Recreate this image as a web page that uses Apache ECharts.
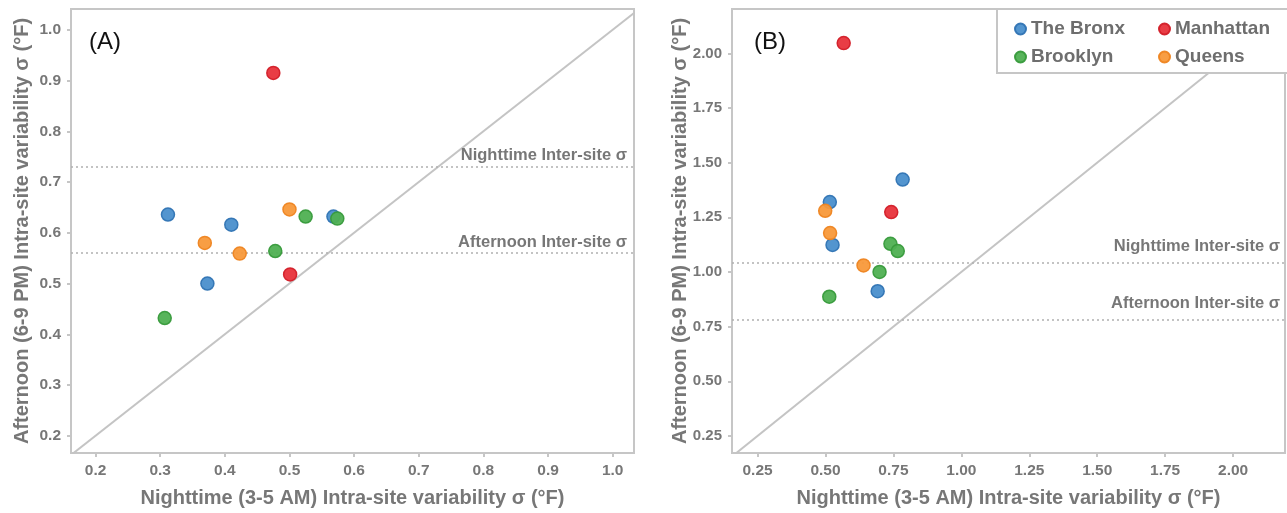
<!DOCTYPE html>
<html>
<head>
<meta charset="utf-8">
<script src="https://cdn.jsdelivr.net/npm/echarts@6/dist/echarts.min.js"></script>
<style>
html,body{margin:0;padding:0;background:#fff;}
#chart{width:1287px;height:513px;}
</style>
</head>
<body>
<div id="chart"></div>
<script>
// ---- Data ----
const boroughs = ['The Bronx', 'Brooklyn', 'Manhattan', 'Queens'];
const legendOrder = ['The Bronx', 'Manhattan', 'Brooklyn', 'Queens'];

// Panel A: [nighttime sigma, afternoon sigma]
const bronxA     = [[0.312, 0.636], [0.410, 0.616], [0.568, 0.632], [0.373, 0.500]];
const brooklynA  = [[0.525, 0.632], [0.574, 0.628], [0.478, 0.564], [0.307, 0.432]];
const manhattanA = [[0.475, 0.915], [0.501, 0.518]];
const queensA    = [[0.500, 0.646], [0.369, 0.580], [0.423, 0.559]];

// Panel B
const bronxB     = [[0.784, 1.423], [0.516, 1.320], [0.526, 1.124], [0.692, 0.912]];
const brooklynB  = [[0.739, 1.129], [0.766, 1.096], [0.699, 1.000], [0.514, 0.887]];
const manhattanB = [[0.567, 2.047], [0.742, 1.274]];
const queensB    = [[0.499, 1.280], [0.517, 1.178], [0.640, 1.030]];

// Inter-site reference lines
const interSiteA = { night: 0.733, afternoon: 0.564 };
const interSiteB = { night: 1.040, afternoon: 0.780 };
const interLabels = { night: 'Nighttime Inter-site σ', afternoon: 'Afternoon Inter-site σ' };

// Axis ranges & tick labels
const rangeAX = [0.162, 1.033], rangeAY = [0.166, 1.041];
const rangeBX = [0.156, 2.191], rangeBY = [0.172, 2.203];
const ticksA = [0.2, 0.3, 0.4, 0.5, 0.6, 0.7, 0.8, 0.9, 1.0];
const ticksBX = [0.25, 0.5, 0.75, 1.0, 1.25, 1.5, 1.75, 2.0];
const ticksBY = [0.25, 0.5, 0.75, 1.0, 1.25, 1.5, 1.75, 2.0];
const diagonal = [[0, 0], [3, 3]];

const xTitle = 'Nighttime (3-5 AM) Intra-site variability σ (°F)';
const yTitle = 'Afternoon (6-9 PM) Intra-site variability σ (°F)';

// ---- Styles ----
const FONT = '"Liberation Sans Narrow", "Liberation Sans", Arial, sans-serif';
const GRAY = '#777777';
const FRAME = '#c6c6c6';
const fills = { 'The Bronx': '#4a8fcc', 'Brooklyn': '#4fb052', 'Manhattan': '#e8333b', 'Queens': '#f8993a' };
const borders = { 'The Bronx': '#2f73b3', 'Brooklyn': '#379a3b', 'Manhattan': '#d21e28', 'Queens': '#ee8420' };

function axisCommon(idx, range, ticks, dec, title, nameGap, margin, labelSize) {
  return {
    type: 'value', gridIndex: idx, min: range[0], max: range[1],
    name: title, nameLocation: 'middle', nameGap: nameGap, nameMoveOverlap: false,
    nameTextStyle: { color: GRAY, fontWeight: 'bold', fontSize: 20, fontFamily: FONT },
    axisLine: { show: false },
    axisTick: { show: true, length: 4, lineStyle: { color: FRAME, width: 2 }, customValues: ticks },
    axisLabel: { color: GRAY, fontWeight: 'bold', fontSize: labelSize, fontFamily: FONT, margin: margin,
      customValues: ticks, formatter: v => v.toFixed(dec) },
    splitLine: { show: false }
  };
}

function scatter(name, data, idx) {
  return {
    type: 'scatter', name: name, data: data, xAxisIndex: idx, yAxisIndex: idx,
    symbol: 'circle', symbolSize: 13, z: 5,
    itemStyle: { color: fills[name], borderColor: borders[name], borderWidth: 1.5, opacity: 0.95 }
  };
}
function refLines(idx, vals, dist) {
  const lbl = {
    show: true, position: 'insideEndTop', color: GRAY, fontWeight: 'bold', fontSize: 16.5,
    fontFamily: FONT, distance: dist
  };
  return {
    type: 'line', xAxisIndex: idx, yAxisIndex: idx, data: [], silent: true,
    markLine: {
      silent: true, symbol: 'none', animation: false,
      lineStyle: { color: '#b0b0b0', type: [2, 3], width: 1.5 },
      data: [
        { yAxis: vals.night, label: Object.assign({}, lbl, { formatter: interLabels.night }) },
        { yAxis: vals.afternoon, label: Object.assign({}, lbl, { formatter: interLabels.afternoon }) }
      ]
    }
  };
}
function diag(idx) {
  return {
    type: 'line', xAxisIndex: idx, yAxisIndex: idx, data: diagonal, symbol: 'none', silent: true,
    clip: true, z: 1, lineStyle: { color: '#c4c4c4', width: 2 }
  };
}

const series = [];
[bronxA, brooklynA, manhattanA, queensA].forEach((d, i) => series.push(scatter(boroughs[i], d, 0)));
[bronxB, brooklynB, manhattanB, queensB].forEach((d, i) => series.push(scatter(boroughs[i], d, 1)));
series.push(diag(0), diag(1), refLines(0, interSiteA, [7, 2.5]), refLines(1, interSiteB, [5, 8]));

const legendTxt = { color: '#6e6e6e', fontWeight: 'bold', fontSize: 19, fontFamily: FONT, lineHeight: 20 };

const chart = echarts.init(document.getElementById('chart'), null, { renderer: 'canvas' });
chart.setOption({
  animation: false,
  backgroundColor: '#ffffff',
  grid: [
    { left: 71, top: 9, width: 563, height: 444, show: true, borderColor: FRAME, borderWidth: 2, backgroundColor: 'transparent' },
    { left: 732, top: 9, width: 553, height: 444, show: true, borderColor: FRAME, borderWidth: 2, backgroundColor: 'transparent' }
  ],
  xAxis: [
    axisCommon(0, rangeAX, ticksA, 1, xTitle, 35, 10, 15.5),
    axisCommon(1, rangeBX, ticksBX, 2, xTitle, 35, 10, 15.5)
  ],
  yAxis: [
    axisCommon(0, rangeAY, ticksA, 1, yTitle, 39, 10, 15.5),
    axisCommon(1, rangeBY, ticksBY, 2, yTitle, 42, 10, 15)
  ],
  legend: {
    data: legendOrder, left: 997, top: 9, width: 262, itemGap: 8,
    orient: 'horizontal', padding: [10, 13, 6, 17],
    backgroundColor: '#ffffff', borderColor: FRAME, borderWidth: 2,
    icon: 'circle', itemWidth: 11, itemHeight: 11,
    formatter: name => (name === 'The Bronx' || name === 'Brooklyn') ? '{c1|' + name + '}' : '{c2|' + name + '}',
    textStyle: Object.assign({}, legendTxt, {
      rich: {
        c1: Object.assign({}, legendTxt, { width: 119 }),
        c2: Object.assign({}, legendTxt, { width: 100 })
      }
    })
  },
  graphic: [
    { type: 'text', left: 89, top: 30, style: { text: '(A)', fontSize: 24, fill: '#111', fontFamily: '"Liberation Sans", Arial, sans-serif' } },
    { type: 'text', left: 754, top: 30, style: { text: '(B)', fontSize: 24, fill: '#111', fontFamily: '"Liberation Sans", Arial, sans-serif' } }
  ],
  series: series
});
</script>
</body>
</html>
